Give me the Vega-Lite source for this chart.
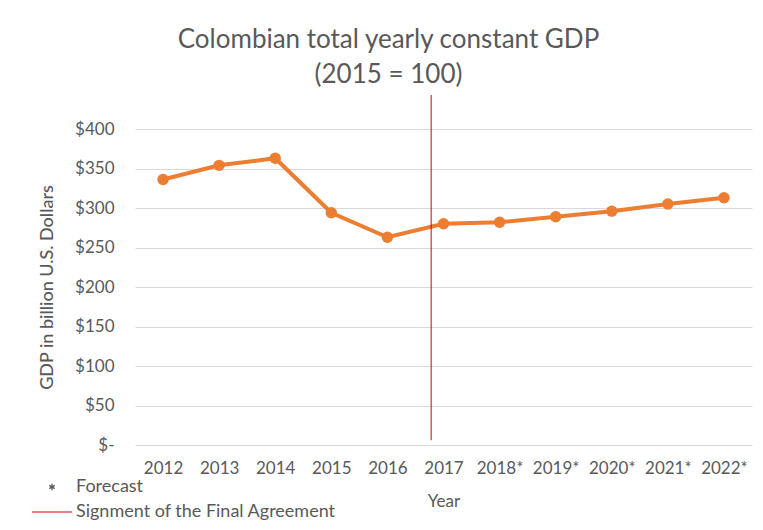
{
  "$schema": "https://vega.github.io/schema/vega-lite/v6.json",
  "autosize": {"type": "none"},
  "width": 617,
  "height": 316,
  "padding": {"left": 135, "top": 129, "right": 11, "bottom": 85},
  "background": "white",
  "config": {
    "font": "Lato",
    "view": {"stroke": null},
    "axis": {"labelColor": "#595959", "titleColor": "#595959", "labelFont": "Lato", "titleFont": "Lato"},
    "axisY": {
      "values": [0, 50, 100, 150, 200, 250, 300, 350, 400],
      "labelOverlap": false,
      "grid": true, "gridColor": "#d9d9d9", "gridWidth": 1,
      "domain": false, "ticks": false,
      "labelFontSize": 17, "labelPadding": 21,
      "titleFontSize": 18, "titleFontWeight": 500, "titlePadding": 18
    }
  },
  "title": {
    "text": ["Colombian total yearly constant GDP", "(2015 = 100)"],
    "anchor": "middle",
    "frame": "group",
    "dx": -55,
    "offset": 7,
    "fontSize": 26,
    "fontWeight": "normal",
    "color": "#595959",
    "lineHeight": 35
  },
  "datasets": {
    "gdp": [
      {"year": 2012, "gdp": 336},
      {"year": 2013, "gdp": 354},
      {"year": 2014, "gdp": 363},
      {"year": 2015, "gdp": 294},
      {"year": 2016, "gdp": 263},
      {"year": 2017, "gdp": 280},
      {"year": 2018, "gdp": 282},
      {"year": 2019, "gdp": 289},
      {"year": 2020, "gdp": 296},
      {"year": 2021, "gdp": 305},
      {"year": 2022, "gdp": 313}
    ],
    "event": [
      {"year": 2016.78, "label": "Signment of the Final Agreement"}
    ]
  },
  "layer": [
    {
      "data": {"name": "gdp"},
      "mark": {"type": "line", "color": "#ED7D31", "strokeWidth": 4, "point": {"filled": true, "size": 130, "color": "#ED7D31"}},
      "encoding": {
        "x": {
          "field": "year", "type": "quantitative",
          "scale": {"domain": [2011.5, 2022.5], "nice": false, "zero": false},
          "axis": {
            "values": [2012, 2013, 2014, 2015, 2016, 2017, 2018, 2019, 2020, 2021, 2022],
            "labelExpr": "datum.value >= 2018 ? datum.value + '*' : '' + datum.value",
            "grid": false, "domain": false, "ticks": false,
            "labelOverlap": false,
            "labelFontSize": 17, "labelPadding": 15,
            "title": "Year", "titleFontSize": 17, "titleFontWeight": "normal", "titlePadding": 17
          }
        },
        "y": {
          "field": "gdp", "type": "quantitative",
          "scale": {"domain": [0, 400], "nice": false},
          "axis": {
            "values": [0, 50, 100, 150, 200, 250, 300, 350, 400],
            "labelExpr": "datum.value == 0 ? '$-' : '$' + datum.value",
            "title": "GDP in billion U.S. Dollars"
          }
        }
      }
    },
    {
      "data": {"name": "event"},
      "mark": {"type": "rule", "strokeWidth": 1, "clip": false},
      "encoding": {
        "x": {"field": "year", "type": "quantitative"},
        "y": {
          "datum": 443, "type": "quantitative",
          "axis": {
            "values": [0, 50, 100, 150, 200, 250, 300, 350, 400],
            "labelExpr": "datum.value == 0 ? '$-' : '$' + datum.value",
            "title": "GDP in billion U.S. Dollars"
          }
        },
        "y2": {"datum": 6},
        "color": {
          "field": "label", "type": "nominal",
          "scale": {"domain": ["Forecast", "Signment of the Final Agreement"], "range": ["#595959", "#d40000"]},
          "legend": {
            "orient": "none",
            "legendX": -92,
            "legendY": 349,
            "title": null,
            "padding": 0,
            "symbolType": "stroke",
            "symbolSize": 1600,
            "symbolStrokeWidth": 1,
            "labelFontSize": 18,
            "labelColor": "#595959",
            "labelLimit": 400,
            "labelOffset": 15,
            "rowPadding": 7,
            "encode": {
              "symbols": {
                "update": {
                  "shape": {"signal": "datum.value == 'Forecast' ? 'M0,-1L0,1M-0.87,-0.5L0.87,0.5M-0.87,0.5L0.87,-0.5' : 'stroke'"},
                  "size": {"signal": "datum.value == 'Forecast' ? 40 : 1600"},
                  "strokeWidth": {"signal": "datum.value == 'Forecast' ? 1.3 : 1"}
                }
              }
            }
          }
        }
      }
    }
  ]
}
